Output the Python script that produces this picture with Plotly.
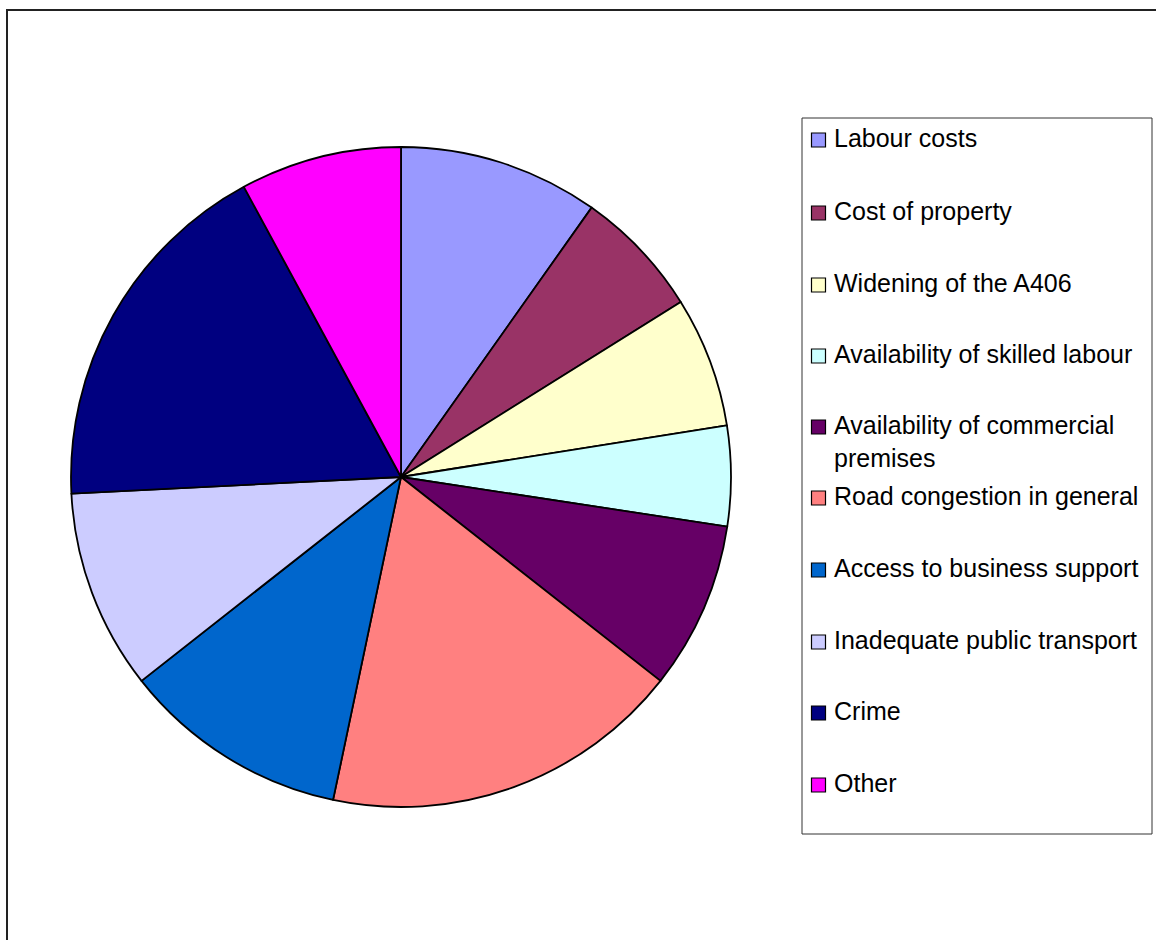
import plotly.graph_objects as go

# Reasons cited as barriers to doing business (share of responses, %)
labels = [
    "Labour costs",
    "Cost of property",
    "Widening of the A406",
    "Availability of skilled labour",
    "Availability of commercial premises",
    "Road congestion in general",
    "Access to business support",
    "Inadequate public transport",
    "Crime",
    "Other",
]
legend_text = [
    "Labour costs",
    "Cost of property",
    "Widening of the A406",
    "Availability of skilled labour",
    "Availability of commercial<br>premises",
    "Road congestion in general",
    "Access to business support",
    "Inadequate public transport",
    "Crime",
    "Other",
]
values = [9.8, 6.3, 6.4, 4.9, 8.2, 17.7, 11.1, 9.8, 17.9, 7.9]
colors = [
    "#9999FF", "#993366", "#FFFFCC", "#CCFFFF", "#660066",
    "#FF8080", "#0066CC", "#CCCCFF", "#000080", "#FF00FF",
]

W, H = 1156, 940
cx, cy, r = 401, 477, 330


def px(x):
    return x / W


def py(y):
    return 1 - y / H


fig = go.Figure(
    go.Pie(
        labels=labels,
        values=values,
        marker=dict(colors=colors, line=dict(color="#000000", width=1.8)),
        sort=False,
        direction="clockwise",
        rotation=0,
        textinfo="none",
        hoverinfo="label+percent",
        showlegend=False,
        domain=dict(x=[px(cx - r), px(cx + r)], y=[py(cy + r), py(cy - r)]),
    )
)

shapes = [
    # outer chart frame
    dict(type="rect", xref="paper", yref="paper",
         x0=px(7), x1=px(1170), y0=py(960), y1=py(10),
         line=dict(color="#222222", width=2), fillcolor="rgba(0,0,0,0)"),
    # legend box
    dict(type="rect", xref="paper", yref="paper",
         x0=px(802), x1=px(1152), y0=py(834), y1=py(118),
         line=dict(color="#333333", width=1), fillcolor="rgba(0,0,0,0)"),
]

annotations = []
row_y = [138, 211, 283, 354, 425, 496, 568, 640, 711, 783]
for txt, col, y in zip(legend_text, colors, row_y):
    shapes.append(dict(
        type="rect", xref="paper", yref="paper",
        x0=px(811.5), x1=px(825.5), y0=py(y + 9), y1=py(y - 5),
        line=dict(color="#000000", width=1.2), fillcolor=col,
    ))
    nlines = txt.count("<br>") + 1
    yc = y + (nlines - 1) * 32 / 2
    annotations.append(dict(
        xref="paper", yref="paper", x=px(832), y=py(yc),
        xanchor="left", yanchor="middle", text=txt, showarrow=False,
        align="left", font=dict(family="Liberation Sans, Arial", size=25, color="#000000"),
    ))

fig.update_layout(
    width=W, height=H,
    margin=dict(l=0, r=0, t=0, b=0),
    paper_bgcolor="#FFFFFF",
    plot_bgcolor="#FFFFFF",
    shapes=shapes,
    annotations=annotations,
)

fig.write_html("out.html")
